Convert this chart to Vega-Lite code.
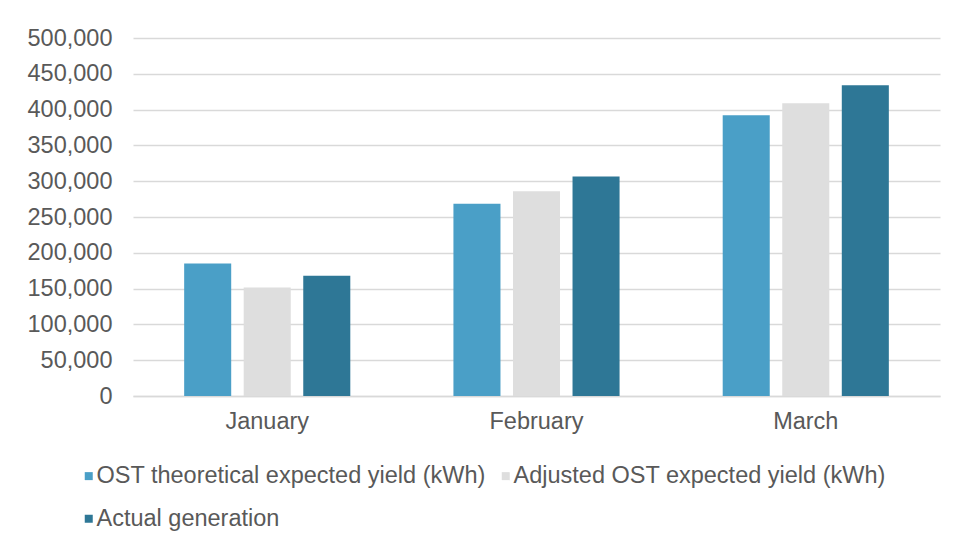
{
  "$schema": "https://vega.github.io/schema/vega-lite/v6.json",
  "width": 807,
  "height": 358,
  "padding": {"left": 27, "top": 26, "right": 17, "bottom": 5},
  "background": "white",
  "data": {
    "values": [
      {"month": "January", "series": "OST theoretical expected yield (kWh)", "value": 185000},
      {"month": "January", "series": "Adjusted OST expected yield (kWh)", "value": 151500},
      {"month": "January", "series": "Actual generation", "value": 168000},
      {"month": "February", "series": "OST theoretical expected yield (kWh)", "value": 268500},
      {"month": "February", "series": "Adjusted OST expected yield (kWh)", "value": 286000},
      {"month": "February", "series": "Actual generation", "value": 306500},
      {"month": "March", "series": "OST theoretical expected yield (kWh)", "value": 392000},
      {"month": "March", "series": "Adjusted OST expected yield (kWh)", "value": 409000},
      {"month": "March", "series": "Actual generation", "value": 434000}
    ]
  },
  "mark": {"type": "bar"},
  "encoding": {
    "x": {
      "field": "month", "type": "nominal", "sort": ["January", "February", "March"],
      "scale": {"paddingInner": 0.383, "paddingOuter": 0.19},
      "axis": {"title": null, "labelAngle": 0, "ticks": false, "labelPadding": 13, "domainColor": "#D9D9D9", "domainWidth": 1.5}
    },
    "xOffset": {
      "field": "series", "type": "nominal",
      "sort": ["OST theoretical expected yield (kWh)", "Adjusted OST expected yield (kWh)", "Actual generation"],
      "scale": {"paddingInner": 0.21, "paddingOuter": 0}
    },
    "y": {
      "field": "value", "type": "quantitative",
      "scale": {"domain": [0, 500000], "nice": false},
      "axis": {"title": null, "values": [0, 50000, 100000, 150000, 200000, 250000, 300000, 350000, 400000, 450000, 500000], "format": ",.0f", "ticks": false, "domain": false, "labelPadding": 21, "gridColor": "#D9D9D9", "gridWidth": 1.5}
    },
    "color": {
      "field": "series", "type": "nominal",
      "sort": ["OST theoretical expected yield (kWh)", "Adjusted OST expected yield (kWh)", "Actual generation"],
      "scale": {"range": ["#4A9FC7", "#DEDEDE", "#2E7796"]},
      "legend": {
        "title": null, "orient": "none", "legendX": -56, "legendY": 426, "direction": "horizontal", "columns": 2,
        "symbolType": "square", "symbolSize": 64, "symbolStrokeWidth": 0, "labelOffset": -4, "columnPadding": 8, "rowPadding": 18
      }
    }
  },
  "config": {
    "font": "Liberation Sans",
    "view": {"stroke": null},
    "axis": {"labelFont": "Liberation Sans", "labelFontSize": 23.5, "labelColor": "#595959"},
    "legend": {"labelFont": "Liberation Sans", "labelFontSize": 23.5, "labelColor": "#595959", "labelLimit": 600}
  }
}
